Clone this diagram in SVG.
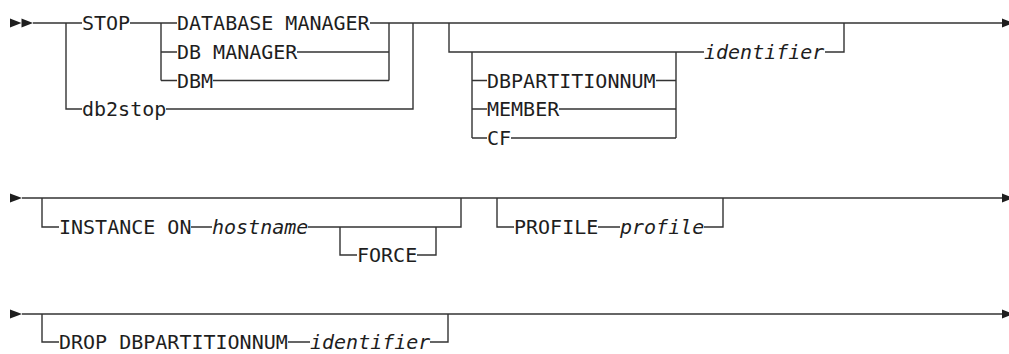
<svg xmlns="http://www.w3.org/2000/svg" width="1009" height="354" viewBox="0 0 1009 354">
<style>
.t{font-family:"DejaVu Sans Mono","Liberation Mono",monospace;font-size:20px;fill:#1e1e1e}
.i{font-style:italic}
.c{fill:none;stroke:#333;stroke-width:1.4;stroke-linecap:butt;stroke-linejoin:miter}
.a{fill:#1e1e1e}
</style>
<rect width="1009" height="354" fill="#fff"/>
<g id="connectors">
<!-- row 1 -->
<polygon class="a" points="10,18.5 21.5,23 10,27.5"/>
<polygon class="a" points="21.5,18.5 33,23 21.5,27.5"/>
<path class="c" d="M33,23H82 M130,23H177 M370,23H1002"/>
<path class="c" d="M161,23V80.5 M161,52H177 M161,80.5H177"/>
<path class="c" d="M297,52H389 M213,80.5H389 M389,80.5V23"/>
<path class="c" d="M66,23V109H82 M166,109H413V23"/>
<path class="c" d="M449,23V52H704 M472,52V138 M472,80.5H487 M472,109H487 M472,138H487"/>
<path class="c" d="M656,80.5H676 M559,109H676 M511,138H676 M676,138V52"/>
<path class="c" d="M825,52H844V23"/>
<polygon class="a" points="1002,18.5 1013,23 1002,27.5"/>
<!-- row 2 -->
<polygon class="a" points="10,193.5 22,198 10,202.5"/>
<path class="c" d="M22,198H1002"/>
<path class="c" d="M42,198V227H59 M191,227H212 M308,227H461V198"/>
<path class="c" d="M340,227V255H357 M417,255H436V227"/>
<path class="c" d="M497,198V227H514 M598,227H620 M704,227H723V198"/>
<polygon class="a" points="1002,193.5 1013,198 1002,202.5"/>
<!-- row 3 -->
<polygon class="a" points="10,309.5 22,314 10,318.5"/>
<path class="c" d="M22,314H1002"/>
<path class="c" d="M42,314V342H59 M288,342H310 M430,342H448V314"/>
<polygon class="a" points="1002,309.5 1013,314 1002,318.5"/>
</g>
<g id="n-stop"><text class="t" x="82" y="30.3">STOP</text></g>
<g id="n-database-manager"><text class="t" x="177" y="30.3">DATABASE MANAGER</text></g>
<g id="n-db-manager"><text class="t" x="177" y="59.3">DB MANAGER</text></g>
<g id="n-dbm"><text class="t" x="177" y="87.8">DBM</text></g>
<g id="n-db2stop"><text class="t" x="82" y="116.3">db2stop</text></g>
<g id="n-dbpartitionnum"><text class="t" x="487" y="87.8">DBPARTITIONNUM</text></g>
<g id="n-member"><text class="t" x="487" y="116.3">MEMBER</text></g>
<g id="n-cf"><text class="t" x="487" y="145.3">CF</text></g>
<g id="n-identifier"><text class="t i" x="704" y="59.3">identifier</text></g>
<g id="n-instance-on"><text class="t" x="59" y="234.3">INSTANCE ON</text></g>
<g id="n-hostname"><text class="t i" x="212" y="234.3">hostname</text></g>
<g id="n-force"><text class="t" x="357" y="262.3">FORCE</text></g>
<g id="n-profile-kw"><text class="t" x="514" y="234.3">PROFILE</text></g>
<g id="n-profile"><text class="t i" x="620" y="234.3">profile</text></g>
<g id="n-drop"><text class="t" x="59" y="349.2">DROP DBPARTITIONNUM</text></g>
<g id="n-identifier2"><text class="t i" x="310" y="349.2">identifier</text></g>
</svg>
